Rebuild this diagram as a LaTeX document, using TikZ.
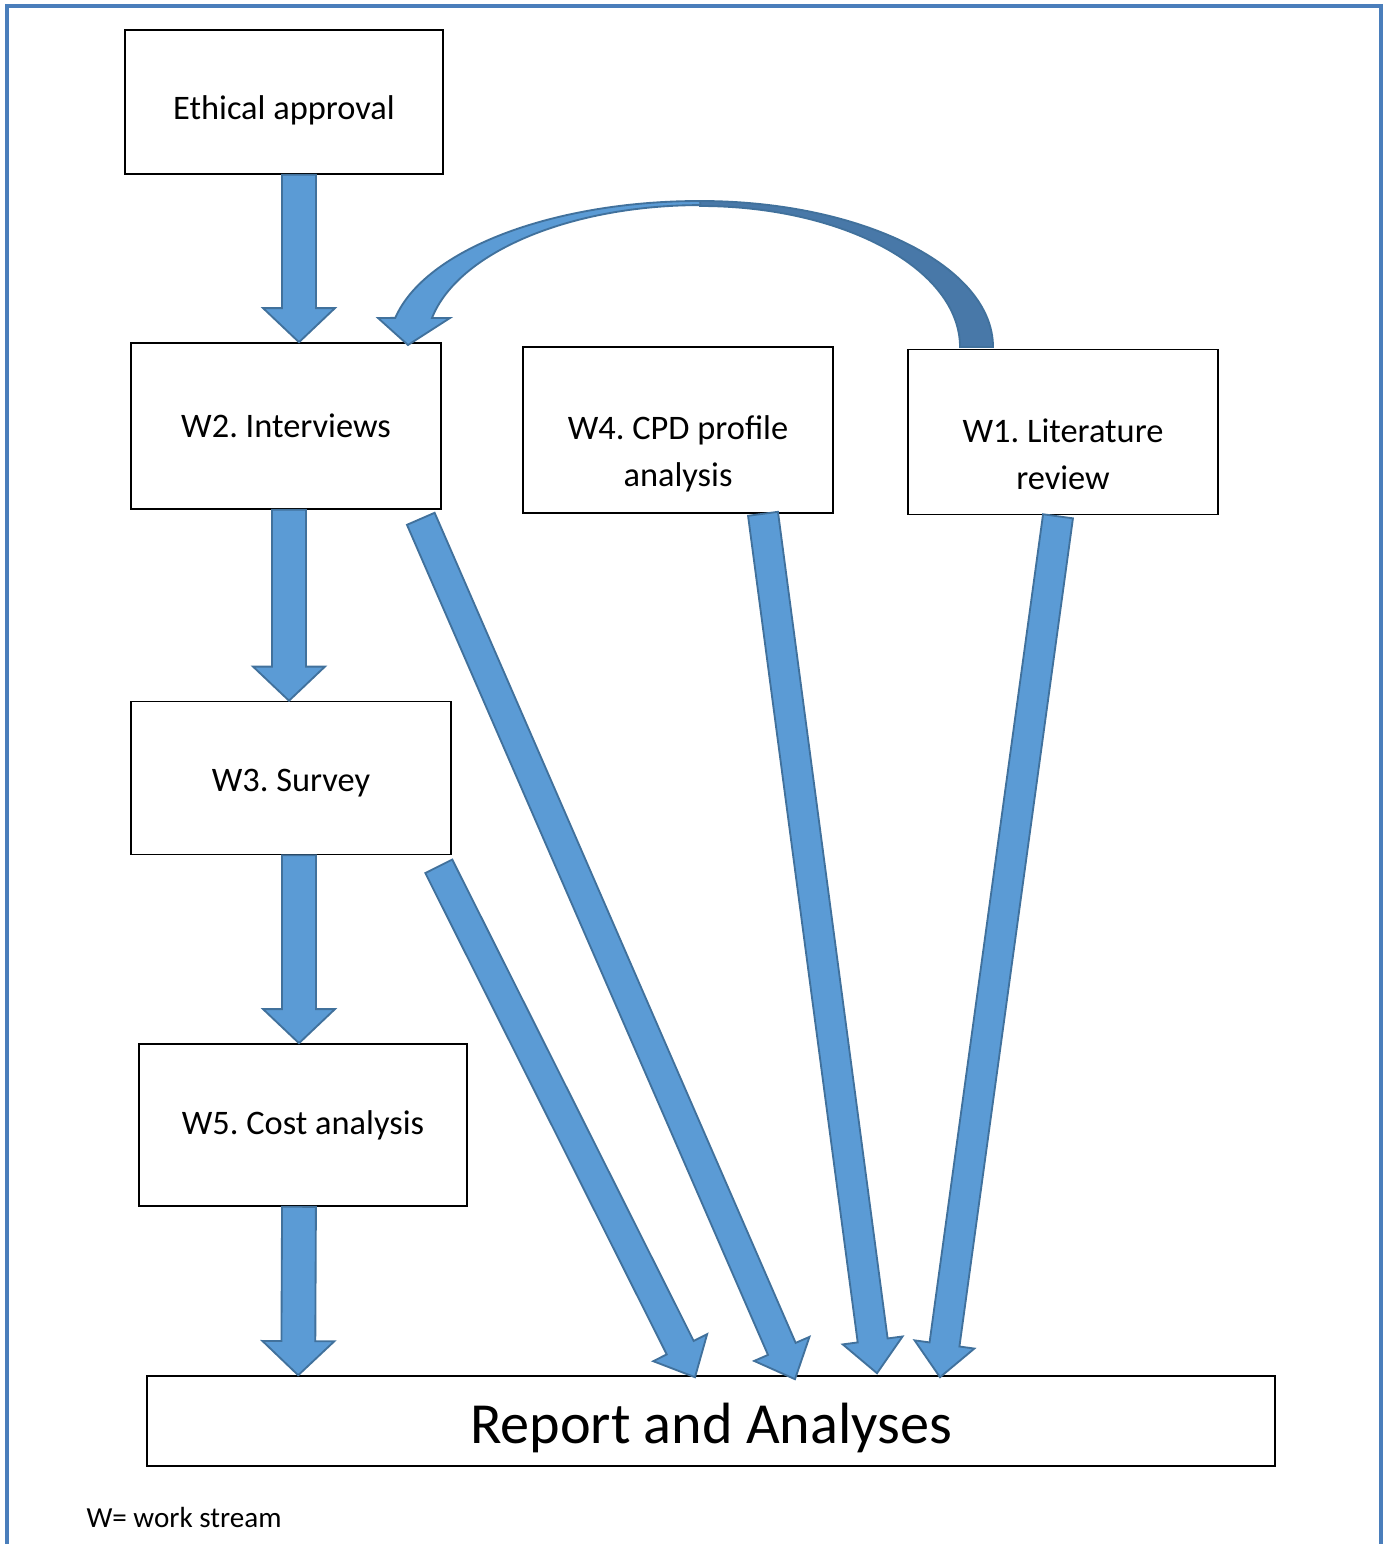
\documentclass[tikz,border=0pt]{standalone}
\usepackage{fontspec}
\setmainfont{Carlito}
\frenchspacing
\usetikzlibrary{calc}
\definecolor{arrowfill}{HTML}{5B9BD5}
\definecolor{arrowline}{HTML}{41719C}
\definecolor{arrowdark}{HTML}{4878A8}
\definecolor{framecol}{HTML}{4A7EBB}
\newcommand{\pxu}{0.378pt}
% block arrow: start, tip, shaft half width, head half width, head length
\newcommand{\blockarrow}[5]{%
  \coordinate (ba) at #1;
  \coordinate (bt) at #2;
  \coordinate (hb) at ($(bt)!#5!(ba)$);
  \draw[arrowstyle] ($(ba)!#3!90:(bt)$) -- ($(hb)!#3!90:(bt)$) -- ($(hb)!#4!90:(bt)$) -- (bt)
    -- ($(hb)!#4!-90:(bt)$) -- ($(hb)!#3!-90:(bt)$) -- ($(ba)!#3!-90:(bt)$) -- cycle;}
\begin{document}
\begin{tikzpicture}[x=\pxu, y=\pxu,
  box/.style={draw=black, line width=0.6pt, inner sep=0pt},
  boxtext/.style={font=\fontsize{13}{17.8}\selectfont, align=center},
  arrowstyle/.style={fill=arrowfill, draw=arrowline, line width=0.7pt, line join=miter}]
\useasboundingbox (0,0) rectangle (1388,-1544);
\clip (0,0) rectangle (1388,-1544);
\draw[framecol, line width=1.4pt] (7,-6) rectangle (1381,-1600);

% boxes
\node[box, minimum width=318*\pxu, minimum height=144*\pxu] (ethics) at (284,-102) {};
\node[boxtext] at ($(ethics)+(0,-8)$) {Ethical approval};
\node[box, minimum width=310*\pxu, minimum height=166*\pxu] (intv) at (286,-426) {};
\node[boxtext] at (intv) {W2. Interviews};
\node[box, minimum width=310*\pxu, minimum height=166*\pxu] (cpd) at (678,-430) {};
\node[boxtext] at ($(cpd)+(0,-24)$) {W4. CPD profile\\analysis};
\node[box, minimum width=310*\pxu, minimum height=165*\pxu] (lit) at (1063,-432) {};
\node[boxtext] at ($(lit)+(0,-22)$) {W1. Literature\\review};
\node[box, minimum width=320*\pxu, minimum height=153*\pxu] (survey) at (291,-778) {};
\node[boxtext] at ($(survey)+(0,-5)$) {W3. Survey};
\node[box, minimum width=328*\pxu, minimum height=162*\pxu] (cost) at (303,-1125) {};
\node[boxtext] at (cost) {W5. Cost analysis};
\node[box, minimum width=1128*\pxu, minimum height=90*\pxu] (report) at (711,-1421) {};
\node[font=\fontsize{22}{26}\selectfont] at ($(report)+(0,-7)$) {Report and Analyses};
\node[font=\fontsize{11}{13}\selectfont, anchor=west, inner sep=0pt] (note) at (86,-1517) {W= work stream};

% straight arrows down the left
\blockarrow{($(ethics.south)+(15,0)$)}{($(intv.north)+(13,0)$)}{6.4pt}{13.6pt}{12.9pt}
\blockarrow{($(intv.south)+(3,0)$)}{($(survey.north)+(-2,0)$)}{6.4pt}{13.6pt}{12.9pt}
\blockarrow{($(survey.south)+(8,0)$)}{($(cost.north)+(-4,0)$)}{6.4pt}{13.6pt}{12.9pt}
\blockarrow{($(cost.south)+(-4,0)$)}{($(report.north west)+(152,0)$)}{6.4pt}{13.6pt}{12.9pt}

% arrows into the report
\blockarrow{($(intv.south east)+(-21,-9)$)}{($(report.north)+(84,-4)$)}{5.7pt}{11.4pt}{12.5pt}
\blockarrow{($(survey.south east)+(-13,-11)$)}{($(report.north)+(-16,-2)$)}{5.7pt}{11.4pt}{12.5pt}
\blockarrow{($(cpd.south)+(85,0)$)}{($(report.north)+(166,2)$)}{5.7pt}{11.4pt}{12.5pt}
\blockarrow{($(lit.south)+(-5,-1)$)}{($(report.north)+(229,-2)$)}{5.7pt}{11.4pt}{12.5pt}

% curved arrow from W1 back to W2
\draw[arrowstyle, fill=arrowdark] (700,-201) arc[start angle=90, end angle=0, x radius=293, y radius=146]
  -- (960,-347) arc[start angle=0, end angle=90, x radius=260, y radius=141] -- cycle;
\draw[arrowstyle] (700,-201) arc[start angle=90, end angle=168.5, x radius=311, y radius=146]
  -- (378,-318) -- (408,-345) -- (450,-318) -- (432,-318)
  arc[start angle=168.5, end angle=90, x radius=274, y radius=141] -- cycle;
\end{tikzpicture}
\end{document}
